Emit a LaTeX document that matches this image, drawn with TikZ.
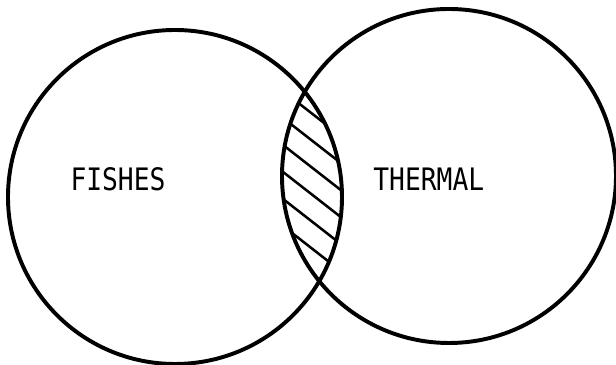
\documentclass[tikz,border=0pt]{standalone}
\usepackage{fontspec}
\newfontfamily\setfont[FakeStretch=0.85]{DejaVu Sans Mono}
\begin{document}
\begin{tikzpicture}[
    set/.style={draw, circle, line width=2.8pt, minimum size=8.35cm, inner sep=0pt},
    hatch/.style={line width=1.8pt},
    lbl/.style={font=\setfont\fontsize{22}{22}\selectfont}
]
    \useasboundingbox (0,0) rectangle (15.4,9.125);
    % Mengen
    \node[set] (fishes) at (4.375,4.2) {};
    \node[set] (thermal) at (11.225,4.725) {};
    \node[lbl] (fl) at (2.95,4.65) {FISHES};
    \node[lbl] (tl) at (10.72,4.65) {THERMAL};
    % Schnittmenge schraffiert
    \begin{scope}
        \clip (fishes.center) circle (4.175);
        \clip (thermal.center) circle (4.175);
        \foreach \y in {6.65,5.975,5.3,4.625,3.95,3.275}
            \draw[hatch] (5.333,\y+1.56) -- (9.333,\y-1.56);
    \end{scope}
\end{tikzpicture}
\end{document}
